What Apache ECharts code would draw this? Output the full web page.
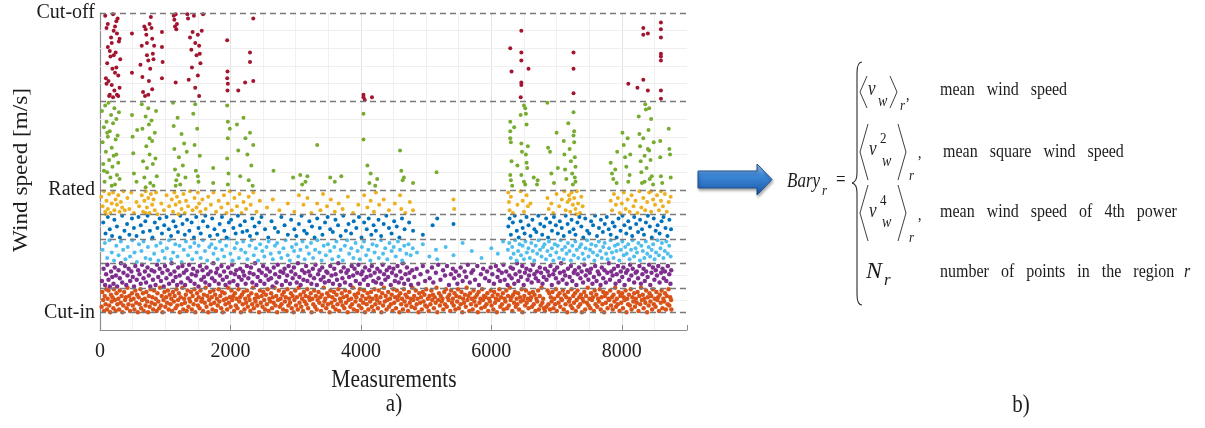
<!DOCTYPE html>
<html>
<head>
<meta charset="utf-8">
<script src="https://cdn.jsdelivr.net/npm/echarts@6/dist/echarts.min.js"></script>
<style>
html,body{margin:0;padding:0;background:#fff;}
#chart{width:1205px;height:428px;}
</style>
</head>
<body>
<div id="chart"></div>
<script>
// ---------- axis / region definitions ----------
const xTickValues = [0, 2000, 4000, 6000, 8000];
const yTickValues = [3, 12, 25];
const yTickLabels = ['Cut-in', 'Rated', 'Cut-off'];
const regionBounds = [3, 4.8, 6.6, 8.4, 10.2, 12, 18.5, 25];
const minorGridY = [3.9, 5.7, 7.5, 9.3, 11.1, 13.3, 14.6, 15.9, 17.2, 19.8, 21.1, 22.4, 23.7];

// ---------- data: flat lists of [measurement, wind speed m/s] ----------
const redPts = [80,24.8, 100,23.9, 120,22.5, 110,21.3, 90,20.2, 150,19.0, 200,24.9, 230,24.0, 260,23.5, 180,22.8, 210,21.9, 250,21.0, 280,20.4, 300,19.5, 140,18.9, 170,23.2, 240,22.1, 190,20.9, 130,20.0, 220,19.3, 270,24.6, 290,22.9, 310,21.6, 160,21.8, 100,19.8, 260,19.0, 200,18.8, 230,20.6, 120,24.2, 300,23.1, 150,22.2, 280,18.9, 180,19.7, 250,24.4, 210,23.7,
490,23.5, 490,20.6,
620,21.2, 640,22.6, 650,20.3, 660,19.2, 700,23.8, 710,23.4, 720,22.8, 740,21.5, 750,20.0, 760,24.2, 780,24.7, 790,23.9, 800,23.1, 810,22.0, 820,21.6, 800,19.4, 830,22.6, 690,18.9, 740,19.0, 770,20.9, 680,24.0, 720,21.9,
950,23.6, 950,22.5, 960,21.4, 950,20.2,
1130,24.8, 1140,24.5, 1150,24.0, 1170,23.8, 1160,24.9, 1160,19.9, 1180,24.2,
1340,24.9, 1350,24.6, 1380,23.2, 1400,22.3, 1420,23.6, 1440,24.8, 1460,22.8, 1480,21.9, 1500,23.4, 1520,22.6, 1530,22.0, 1540,21.3, 1560,23.7, 1500,20.4, 1460,19.5, 1520,18.9, 1360,20.1, 1580,24.9, 1410,21.0,
1950,23.0, 1955,20.7, 1950,20.2, 1960,19.8, 1955,19.3,
2120,19.3, 2225,19.9, 2300,22.1, 2300,21.4, 2350,24.6, 2350,20.0,
4040,19.0, 4040,18.8, 4060,18.6, 4170,18.8,
6290,22.4, 6310,20.7, 6460,23.7, 6460,22.1, 6460,21.5, 6460,19.9, 6460,19.7, 6450,18.8, 6570,20.9,
7260,22.1, 7260,20.9, 7260,19.1,
8100,19.8, 8240,19.5, 8330,20.1, 8400,19.3, 8330,23.9, 8330,23.4, 8400,23.5, 8600,24.3, 8600,23.8, 8600,23.2, 8600,22.0, 8600,21.8, 8600,21.5, 8600,19.3, 8600,18.7];

const greenPts = [30,17.8, 40,15.5, 50,13.9, 60,16.6, 70,12.6, 80,18.2, 90,14.8, 100,17.0, 110,13.3, 120,15.9, 130,18.4, 140,14.2, 150,16.3, 160,12.9, 170,17.5, 180,15.1, 190,13.7, 200,16.9, 210,14.5, 220,18.0, 230,12.4, 240,15.7, 250,17.2, 260,13.1, 270,16.0, 280,14.0, 290,17.7, 300,12.8, 110,16.2, 180,12.3, 250,14.6, 60,13.4,
490,17.5, 500,15.9, 510,14.7, 520,13.2, 560,12.6, 570,16.4,
640,18.3, 650,16.5, 660,14.1, 680,12.9, 700,17.4, 710,15.2, 720,13.6, 740,18.0, 750,16.8, 760,14.6, 770,12.5, 790,17.1, 800,15.6, 810,13.9, 820,12.3, 840,16.2, 850,14.3, 860,17.8, 870,13.0, 700,12.2, 760,15.8,
1120,18.4, 1130,16.7, 1140,15.0, 1150,13.5, 1170,12.7, 1190,17.3, 1210,14.4, 1230,12.4, 1250,16.1, 1270,13.8, 1290,15.4, 1310,12.9, 1330,14.8, 1160,12.3, 1200,13.1,
1430,17.6, 1450,15.3, 1470,13.4, 1490,16.5, 1510,12.6, 1530,14.5, 1460,18.3, 1500,13.0,
1735,13.6, 1735,12.5,
1950,18.2, 1960,17.0, 1960,15.8, 1950,14.3, 1970,13.2, 1960,12.4, 1990,16.5,
2100,16.8, 2120,14.9, 2150,13.0, 2200,17.3, 2230,15.8, 2260,14.6, 2280,12.7, 2300,16.2, 2320,13.8, 2340,12.3, 2350,15.3,
2660,13.4, 2960,12.9,
3070,13.1, 3100,12.4, 3150,12.6, 3180,13.0, 3330,15.3, 3530,12.9, 3600,12.6, 3700,13.0,
4040,17.6, 4040,15.7, 4100,13.8, 4130,12.5, 4150,13.2, 4220,12.3, 4250,12.8,
4600,14.9, 4620,13.4, 4640,12.7, 4660,12.9, 4800,12.5, 5160,13.3,
6290,17.0, 6290,16.3, 6290,15.8, 6300,15.5, 6310,14.1, 6290,13.1, 6300,12.7, 6320,12.3, 6350,16.6, 6400,13.8, 6450,17.5, 6460,15.4, 6470,14.8, 6460,13.1, 6500,12.6, 6520,18.0, 6530,17.6, 6530,14.6, 6540,14.0, 6550,13.6, 6520,12.4, 6560,15.2, 6540,16.8, 6500,18.2,
6650,12.9, 6700,12.4, 6710,12.7,
6860,18.4, 6870,15.1, 6900,14.8, 6920,13.2, 6960,12.5, 7000,16.2, 7020,13.6,
7110,15.6, 7120,14.6, 7130,13.5, 7150,12.8, 7180,16.9, 7200,15.0, 7220,14.1, 7240,13.2, 7260,17.7, 7270,16.3, 7270,15.5, 7280,14.4, 7290,13.7, 7280,12.9, 7250,12.4, 7260,16.0, 7290,12.6,
7830,14.0, 7850,13.2, 7870,12.8, 7900,13.5, 7920,12.5, 7930,14.8,
8010,16.2, 8030,15.3, 8050,14.4, 8070,13.7, 8090,15.8, 8100,12.6, 8120,13.1, 8130,14.6,
8260,17.4, 8270,16.1, 8280,15.2, 8290,14.1, 8300,13.3, 8310,12.5, 8330,15.8, 8350,14.5, 8360,18.3, 8370,17.9, 8380,13.6, 8400,15.0, 8410,16.4, 8420,18.0, 8430,12.8, 8440,14.2, 8450,17.2, 8460,13.0, 8480,12.4, 8490,15.5, 8350,12.6, 8420,14.9,
8590,15.6, 8590,14.4, 8600,13.0, 8620,12.5, 8720,16.5, 8730,15.0, 8740,14.6, 8750,12.9];

const yellowPts = [20,11.5, 40,10.8, 60,11.9, 80,10.4, 100,11.2, 120,10.6, 140,11.7, 160,10.3, 180,11.0, 200,11.8, 220,10.5, 240,11.3, 260,10.9, 280,11.6, 300,10.4, 320,11.1, 340,10.7, 360,11.9, 380,10.5, 90,10.2,
420,11.4, 450,10.6, 480,11.8, 520,10.3, 560,11.1, 600,10.8, 640,11.6, 660,10.4, 680,11.2, 700,11.9, 720,10.7, 740,11.4, 760,10.3, 780,11.7, 800,10.9, 820,11.3, 840,10.5, 860,11.8, 880,10.2, 700,10.3,
940,11.0, 980,10.5, 1020,11.6, 1060,10.8, 1100,11.3, 1120,10.4, 1140,11.8, 1160,10.9, 1180,11.5, 1200,10.2, 1220,11.1, 1250,10.6, 1280,11.7, 1300,10.3, 1320,11.2, 1350,10.8, 1380,11.9, 1420,10.5, 1450,11.4, 1480,10.7, 1500,11.8, 1520,11.0, 1540,10.4, 1570,11.3,
1620,10.6, 1660,11.5, 1700,10.9, 1740,11.8, 1780,10.4, 1820,11.2, 1860,10.7, 1900,11.6, 1940,10.3, 1960,11.0, 1990,11.9, 2020,10.5, 2060,11.4, 2100,10.8, 2140,11.7, 2170,10.3, 2200,11.1, 2240,10.6, 2280,11.5, 2310,10.9, 2350,11.8, 2400,10.4, 2450,11.2,
2560,10.7, 2650,11.3, 2750,10.5, 2880,11.0, 2980,10.4, 3050,11.6, 3120,10.9, 3180,11.4, 3240,10.3,
3330,11.0, 3380,10.5, 3420,11.7, 3480,10.8, 3540,11.3, 3600,10.4, 3660,11.0, 3720,10.6, 3800,11.5, 3880,10.3, 3960,10.9, 4050,11.6, 4100,10.7, 4150,11.2, 4200,10.4, 4230,11.8, 4280,10.9, 4350,11.3, 4430,10.5, 4520,11.0, 4600,11.6, 4620,10.6, 4680,10.3, 4750,11.1, 4800,10.5,
5420,11.3, 5430,10.6,
6260,11.8, 6270,11.1, 6280,10.5, 6300,11.5, 6330,10.3, 6400,10.9, 6450,11.9, 6480,11.2, 6500,10.4, 6540,11.6, 6560,10.8, 6600,11.0,
6860,11.4, 6880,10.6, 6920,11.0, 6950,10.3, 7000,11.7, 7040,10.8, 7080,11.3, 7120,11.9, 7140,10.5, 7170,11.1, 7190,11.6, 7210,10.4, 7230,11.8, 7250,10.9, 7270,11.4, 7290,10.6, 7310,11.9, 7330,11.0, 7360,10.3, 7380,11.5, 7400,10.8, 7200,11.3, 7300,10.2,
7830,11.2, 7850,10.5, 7880,11.7, 7910,10.9, 7940,11.4, 7970,10.3, 8000,11.0, 8030,11.8, 8060,10.6, 8090,11.3, 8120,10.4, 8150,11.6, 8180,10.8, 8210,11.2, 8240,10.3, 8270,11.9, 8300,10.7, 8330,11.4, 8360,10.5, 8390,11.1, 8420,11.8, 8450,10.4, 8480,11.3, 8510,10.9, 8540,11.6, 8570,10.5, 8600,11.2, 8630,10.8, 8660,11.7, 8690,10.4, 8720,11.1, 8750,11.5, 8600,11.9, 8450,11.9];

const darkBluePts = [50,9.6, 85,8.8, 120,10.0, 150,9.1, 185,8.6, 220,9.8, 260,9.3, 305,8.5, 340,10.1, 375,9.0, 415,9.5, 450,8.7, 490,9.9, 520,9.2, 560,8.6, 590,10.0, 625,9.4, 660,8.9, 695,9.7, 730,10.1, 765,9.0, 805,8.5, 840,9.6, 880,9.2, 915,9.9, 950,8.8, 985,9.4, 1020,10.0, 1055,9.1, 1090,8.6, 1125,9.7, 1160,9.3, 1195,8.9, 1230,10.1, 1265,9.5, 1300,8.7, 1335,9.8, 1370,9.0, 1405,9.6, 1440,8.5, 1475,10.0, 1510,9.2, 1545,8.8, 1580,9.7, 1615,10.1, 1650,9.3, 1685,8.6, 1720,9.9, 1755,9.1, 1800,8.7, 1835,9.5, 1870,10.0, 1905,9.0, 1940,8.5, 1975,9.6,
2010,9.8, 2045,9.2, 2080,8.8, 2115,10.1, 2150,9.4, 2185,8.9, 2220,9.7, 2255,9.0, 2300,8.6, 2335,9.9, 2370,9.3, 2405,8.8, 2440,9.6, 2475,10.0, 2530,9.1, 2580,8.5, 2630,9.7, 2680,9.2, 2730,8.9, 2780,10.0, 2830,9.4, 2880,8.7, 2930,9.8, 2980,9.1,
3010,8.6, 3050,9.5, 3090,10.1, 3130,9.0, 3170,8.8, 3210,9.7, 3250,9.3, 3290,8.5, 3330,9.9, 3370,9.2, 3410,8.7, 3450,9.6, 3490,10.0, 3530,9.1, 3570,8.9, 3610,9.8, 3650,9.4, 3690,8.6, 3730,10.1, 3770,9.0, 3810,9.5, 3850,8.8, 3890,9.7, 3930,9.2, 3970,10.0,
4010,8.5, 4050,9.6, 4090,9.1, 4120,9.9, 4160,8.7, 4195,9.4, 4230,9.0, 4270,9.8, 4310,8.6, 4350,9.5, 4390,10.1, 4430,9.2, 4470,8.8, 4510,9.7, 4550,9.3, 4590,8.5, 4630,9.9, 4670,9.1,
4740,9.6, 4800,9.0, 4950,8.7, 5100,9.4, 5170,9.9, 5420,9.5,
6260,9.3, 6280,9.9, 6300,8.7, 6330,9.6, 6360,10.1, 6390,9.0, 6420,8.5, 6450,9.7, 6480,9.2, 6510,8.8, 6540,10.0, 6570,9.4, 6600,8.6, 6630,9.8, 6660,9.1, 6690,8.9, 6720,10.1, 6750,9.5, 6780,8.7, 6810,9.3, 6840,9.9, 6870,8.5, 6900,9.6, 6930,9.0, 6960,10.0, 6990,9.4,
7020,8.8, 7050,9.7, 7080,9.2, 7110,8.6, 7140,10.1, 7170,9.5, 7200,8.9, 7230,9.8, 7260,9.1, 7290,8.7, 7320,9.6, 7350,10.0, 7380,9.3, 7410,8.5, 7440,9.9, 7470,9.0, 7500,8.8, 7530,9.7, 7560,9.4, 7590,10.1, 7620,8.6, 7650,9.2, 7680,9.8, 7710,8.9, 7740,9.5, 7770,10.0, 7800,9.1, 7830,8.7, 7860,9.6, 7890,9.3, 7920,8.5, 7950,9.9, 7980,9.0,
8010,10.1, 8040,9.4, 8070,8.8, 8100,9.7, 8130,9.2, 8160,8.6, 8190,10.0, 8220,9.5, 8250,8.9, 8280,9.8, 8310,9.1, 8340,8.7, 8370,9.6, 8400,10.1, 8430,9.3, 8460,8.5, 8490,9.9, 8520,9.0, 8550,9.4, 8580,8.8, 8610,9.7, 8640,10.0, 8670,9.2, 8700,8.6, 8730,9.8, 8755,9.1];

const lightBluePts = [40,7.6, 75,8.1, 110,7.0, 145,8.3, 180,7.4, 215,6.8, 250,7.9, 285,7.2, 320,8.2, 355,7.6, 390,6.9, 425,7.8, 460,7.1, 495,8.3, 530,7.4, 565,6.7, 598,8.0, 635,7.5, 668,8.2, 699,7.0, 735,7.8, 770,6.9, 795,8.4, 830,7.3, 862,7.9, 896,6.8, 928,8.1, 960,7.5, 993,7.0,
1025,7.7, 1058,8.3, 1090,6.9, 1122,7.4, 1155,8.0, 1188,7.1, 1220,7.9, 1252,6.7, 1285,7.6, 1318,8.2, 1350,7.2, 1383,7.8, 1415,6.9, 1448,8.1, 1480,7.4, 1513,7.9, 1545,7.0, 1578,8.3, 1610,7.5, 1643,6.8, 1675,7.8, 1708,8.0, 1740,7.3, 1773,7.7, 1805,6.9, 1838,8.2, 1870,7.6, 1903,7.1, 1935,7.9, 1968,8.4,
2000,7.3, 2033,6.8, 2065,7.7, 2098,8.1, 2130,7.0, 2163,7.6, 2195,8.2, 2228,7.4, 2260,6.9, 2293,7.9, 2325,8.3, 2358,7.2, 2390,7.7, 2423,6.8, 2455,8.0, 2488,7.5, 2520,7.1, 2553,7.8, 2585,8.2, 2618,7.3, 2650,6.9, 2683,7.9, 2715,8.1, 2748,7.4, 2780,7.0, 2813,7.7, 2845,8.3, 2878,7.2, 2910,6.8, 2943,7.8, 2975,7.5,
3008,8.0, 3040,7.1, 3073,7.6, 3105,8.2, 3138,6.9, 3170,7.8, 3203,7.3, 3235,8.1, 3268,7.0, 3298,7.6, 3333,8.3, 3365,7.4, 3398,6.8, 3430,7.9, 3463,7.2, 3495,8.0, 3528,7.5, 3560,6.9, 3593,7.8, 3625,8.2, 3658,7.1, 3690,7.6, 3723,6.8, 3755,7.9, 3788,8.3, 3820,7.3, 3853,7.7, 3885,7.0, 3918,8.1, 3950,7.5, 3983,6.9,
4015,7.8, 4048,8.2, 4080,7.2, 4113,7.6, 4145,6.8, 4178,8.0, 4210,7.4, 4243,7.9, 4275,7.0, 4308,8.3, 4340,7.3, 4373,7.7, 4405,6.9, 4438,8.1, 4470,7.5, 4503,7.8, 4535,7.1, 4568,8.2, 4600,7.6, 4633,6.8, 4665,7.9, 4698,7.3, 4730,8.0, 4763,7.2, 4795,7.7,
4860,7.4, 4950,8.0, 5050,7.1, 5150,7.6, 5170,6.9, 5300,7.8, 5420,7.2, 5560,8.1, 5700,7.5, 5850,7.0, 6000,7.7, 6100,7.3, 6180,8.2,
6255,7.6, 6275,8.1, 6298,7.0, 6320,7.8, 6342,7.3, 6365,8.3, 6388,6.8, 6410,7.5, 6433,8.0, 6455,7.2, 6478,7.9, 6500,6.9, 6523,8.2, 6545,7.4, 6568,7.7, 6590,7.0, 6613,8.1, 6635,7.5, 6658,6.8, 6680,7.9, 6703,7.3, 6725,8.3, 6748,7.6, 6770,7.1, 6793,7.8, 6815,8.0, 6838,6.9, 6860,7.5, 6883,8.2, 6905,7.2, 6928,7.7, 6950,6.8, 6973,8.0, 6995,7.4,
7018,7.9, 7040,7.0, 7063,8.3, 7085,7.6, 7108,6.9, 7130,7.8, 7153,7.3, 7175,8.1, 7198,7.5, 7220,6.8, 7243,7.9, 7265,7.2, 7288,8.2, 7310,7.6, 7333,7.0, 7355,7.8, 7378,8.0, 7400,7.3, 7423,6.9, 7445,7.7, 7468,8.3, 7490,7.1, 7513,7.6, 7535,8.0, 7558,7.4, 7580,6.8, 7603,7.9, 7625,7.2, 7648,8.2, 7670,7.5, 7693,7.0, 7715,7.8, 7738,8.1, 7760,7.3, 7783,6.9, 7805,7.7, 7828,8.3, 7850,7.4, 7873,7.0, 7895,7.9, 7918,7.5, 7940,8.0, 7963,6.8, 7985,7.6,
8008,8.2, 8030,7.2, 8053,7.8, 8075,7.3, 8098,8.0, 8120,6.9, 8143,7.6, 8165,8.3, 8188,7.1, 8210,7.7, 8233,7.4, 8255,8.1, 8278,6.8, 8300,7.9, 8323,7.5, 8345,7.0, 8368,8.2, 8390,7.3, 8413,7.8, 8435,7.1, 8458,7.6, 8480,8.0, 8503,6.9, 8525,7.4, 8548,8.3, 8570,7.2, 8593,7.7, 8615,8.1, 8638,7.0, 8660,7.5, 8683,8.2, 8705,7.3, 8728,7.9, 8750,7.1];

const purplePts = [30,5.3, 55,6.2, 78,5.0, 94,5.8, 112,6.5, 130,5.4, 151,4.9, 169,6.0, 188,5.6, 207,5.1, 226,6.3, 244,5.7, 263,4.9, 285,6.1, 304,5.5, 322,6.6, 341,5.2, 360,5.9, 383,6.4, 402,5.0, 421,5.7, 440,6.2, 462,5.3, 481,6.0, 503,5.6, 522,4.9, 541,6.4, 563,5.4, 585,6.1, 606,5.8, 624,5.1, 645,6.5, 667,5.5, 688,6.0, 707,5.2, 729,6.3, 748,5.7, 770,4.9, 791,6.1, 812,5.4, 833,6.0, 852,5.0, 874,6.5, 893,5.6, 915,6.2, 934,5.3, 956,5.9, 977,4.9, 996,6.4,
1018,5.5, 1037,6.1, 1059,5.1, 1080,5.8, 1098,6.6, 1120,5.3, 1141,6.0, 1160,5.6, 1182,5.0, 1199,6.3, 1222,5.7, 1244,5.2, 1263,6.4, 1285,5.9, 1304,5.0, 1325,6.1, 1347,5.5, 1366,6.5, 1388,5.3, 1407,5.8, 1429,6.2, 1450,5.1, 1469,5.7, 1491,6.0, 1510,4.9, 1532,6.4, 1553,5.4, 1572,6.1, 1594,5.6, 1615,5.2, 1634,6.3, 1656,5.8, 1677,5.0, 1696,6.0, 1718,5.5, 1737,6.6, 1759,5.3, 1780,5.9, 1799,6.2, 1821,5.1, 1840,5.7, 1862,6.4, 1883,5.4, 1902,6.0, 1924,5.0, 1943,5.6, 1965,6.3, 1986,5.2,
2005,5.9, 2027,6.5, 2046,5.3, 2068,5.8, 2089,6.1, 2108,5.0, 2130,5.6, 2149,6.2, 2171,5.4, 2192,6.0, 2211,5.7, 2233,5.1, 2252,6.4, 2274,5.5, 2295,5.9, 2314,6.3, 2336,5.2, 2355,5.8, 2377,6.6, 2398,5.0, 2417,5.6, 2439,6.1, 2458,5.3, 2480,5.9, 2501,6.4, 2520,5.1, 2542,5.7, 2561,6.2, 2583,5.4, 2604,6.0, 2623,5.5, 2645,4.9, 2664,6.3, 2686,5.8, 2707,5.2, 2726,6.5, 2748,5.6, 2767,6.0, 2789,5.0, 2810,5.9, 2829,6.2, 2851,5.3, 2870,5.7, 2892,6.4, 2913,5.1, 2932,6.0, 2954,5.5, 2973,6.3, 2995,5.8,
3016,5.2, 3035,6.6, 3057,5.6, 3076,5.0, 3098,6.1, 3119,5.4, 3138,5.9, 3160,6.4, 3179,5.3, 3201,6.0, 3222,5.7, 3241,5.1, 3263,6.2, 3282,5.5, 3304,6.5, 3325,5.0, 3344,5.8, 3366,6.1, 3385,5.4, 3407,6.3, 3428,5.6, 3447,5.2, 3469,6.0, 3488,5.9, 3510,5.3, 3531,6.4, 3550,5.7, 3572,5.1, 3591,6.2, 3613,5.8, 3634,5.4, 3653,6.6, 3675,5.0, 3694,6.0, 3716,5.5, 3737,6.3, 3756,5.2, 3778,5.9, 3801,6.1, 3819,5.6, 3840,5.0, 3859,6.4, 3881,5.7, 3902,6.2, 3922,5.3, 3943,5.9, 3962,6.5, 3984,5.1,
4005,5.8, 4025,6.0, 4046,5.4, 4065,6.3, 4087,5.6, 4108,5.0, 4128,6.1, 4149,5.7, 4168,6.4, 4190,5.3, 4211,5.9, 4231,5.2, 4252,6.2, 4271,5.5, 4293,6.0, 4314,5.1, 4334,6.5, 4355,5.8, 4374,5.4, 4396,6.1, 4417,5.6, 4437,6.3, 4458,5.0, 4477,5.9, 4500,6.2, 4520,5.3, 4540,5.7, 4561,6.4, 4580,5.2, 4603,6.0, 4623,5.5, 4643,6.6, 4664,5.1, 4683,5.8, 4706,6.3, 4726,5.4, 4746,5.9, 4767,5.0, 4786,6.1,
4820,5.6, 4855,6.2, 4880,5.1, 4915,5.8, 4950,6.4, 4985,5.3, 5020,6.0, 5055,5.5, 5090,6.3, 5110,5.2, 5150,5.9, 5185,6.5, 5220,5.4, 5260,6.1, 5290,5.7, 5320,6.4, 5350,5.0, 5380,5.8, 5410,6.2, 5430,5.5, 5455,6.0, 5480,5.1, 5505,5.7, 5530,6.3, 5560,5.3, 5590,6.0, 5615,5.6, 5640,6.5, 5670,5.2, 5695,5.9, 5720,6.1, 5750,5.4, 5785,6.4, 5810,5.0, 5840,5.8, 5875,6.2, 5905,5.5, 5935,6.0, 5965,5.3, 5990,6.3,
6015,5.8, 6040,5.1, 6070,6.4, 6095,5.6, 6110,6.1, 6135,5.3, 6160,5.9, 6185,6.5, 6205,5.4, 6228,6.0, 6250,5.0, 6275,5.7, 6296,6.3, 6312,5.5, 6331,6.2, 6352,5.1, 6371,5.8, 6393,6.6, 6414,5.3, 6433,6.0, 6455,5.6, 6474,6.4, 6496,5.0, 6515,5.9, 6537,6.2, 6556,5.4, 6578,5.7, 6597,6.1, 6618,5.2, 6640,6.5, 6659,5.8, 6681,5.5, 6700,6.0, 6721,5.3, 6743,6.3, 6762,5.9, 6784,5.1, 6803,5.6, 6824,6.2, 6846,5.4, 6865,6.0, 6887,5.7, 6906,6.4, 6927,5.0, 6949,5.8, 6968,6.1, 6990,5.5,
7009,6.3, 7030,5.2, 7052,5.9, 7071,6.6, 7093,5.4, 7112,6.0, 7133,5.7, 7155,5.1, 7174,6.2, 7201,5.6, 7220,6.4, 7241,5.3, 7263,5.9, 7282,6.1, 7304,5.0, 7323,5.8, 7344,6.3, 7366,5.5, 7385,6.0, 7407,5.2, 7426,6.5, 7447,5.7, 7469,6.1, 7488,5.4, 7510,5.9, 7529,6.2, 7550,5.1, 7572,5.6, 7591,6.4, 7613,5.3, 7632,6.0, 7653,5.8, 7675,5.0, 7694,6.3, 7716,5.5, 7735,6.1, 7756,5.2, 7778,5.9, 7801,6.6, 7819,5.4, 7838,6.0, 7859,5.7, 7881,6.2, 7904,5.1, 7922,5.8, 7941,6.4, 7962,5.3, 7984,6.0,
8007,5.6, 8025,6.3, 8044,5.0, 8065,5.9, 8087,6.1, 8110,5.4, 8128,6.5, 8147,5.7, 8168,6.2, 8190,5.2, 8213,5.9, 8231,6.0, 8250,5.5, 8271,6.4, 8293,5.1, 8316,5.8, 8334,6.2, 8353,5.3, 8374,6.0, 8396,5.6, 8419,6.5, 8437,5.0, 8456,5.9, 8477,6.3, 8500,5.4, 8522,6.1, 8540,5.7, 8559,6.4, 8580,5.2, 8603,5.9, 8625,6.2, 8643,5.5, 8662,6.0, 8683,5.3, 8706,6.4, 8728,5.8, 8746,5.1, 8758,6.1];

const orangePts = [25,3.4, 35,4.5, 48,3.9, 60,3.1, 72,4.2, 85,3.6, 95,4.7, 108,3.2, 117,4.0, 130,4.6, 141,3.5, 156,3.0, 168,4.3, 179,3.8, 192,4.1, 205,3.3, 214,4.7, 228,3.9, 240,3.1, 253,4.4, 266,3.6, 281,4.0, 294,3.2, 302,4.6, 318,3.7, 331,4.2, 345,3.0, 357,3.5, 370,4.5, 384,3.9, 396,4.1, 409,3.3, 421,4.8, 436,3.6, 448,4.2, 460,3.1, 473,3.9, 489,4.4, 503,3.5, 515,4.0, 527,3.2, 541,4.6, 556,3.7, 568,4.3, 580,3.0, 593,4.1, 607,3.6, 619,4.7, 632,3.3, 645,3.9, 659,4.4, 671,3.1, 686,4.0, 698,3.5, 711,4.5, 724,3.8, 737,3.0, 749,4.2, 762,3.4, 776,4.7, 790,3.7, 803,4.1, 815,3.2, 829,4.6, 842,3.6, 855,4.0, 869,3.1, 881,4.4, 894,3.8, 907,3.3, 920,4.8, 934,3.5, 947,4.2, 960,3.0, 973,3.9, 988,4.5,
1001,3.4, 1014,4.1, 1027,3.7, 1041,4.6, 1054,3.2, 1068,4.3, 1080,3.6, 1093,4.0, 1106,3.1, 1119,4.5, 1132,3.8, 1145,4.2, 1158,3.3, 1172,4.7, 1185,3.5, 1197,3.9, 1210,4.4, 1223,3.0, 1236,4.1, 1250,3.6, 1263,4.8, 1277,3.2, 1290,4.0, 1303,3.7, 1316,4.3, 1329,3.1, 1343,4.6, 1356,3.4, 1369,4.0, 1382,3.8, 1395,4.5, 1408,3.2, 1421,4.2, 1435,3.6, 1448,4.7, 1461,3.0, 1475,3.9, 1488,4.4, 1501,3.5, 1514,4.1, 1527,3.3, 1541,4.6, 1554,3.8, 1567,4.0, 1580,3.1, 1593,4.3, 1606,3.7, 1619,4.8, 1633,3.4, 1646,4.2, 1659,3.0, 1672,3.9, 1686,4.5, 1699,3.6, 1712,4.1, 1725,3.2, 1739,4.6, 1752,3.7, 1765,4.3, 1778,3.1, 1792,4.0, 1805,3.5, 1818,4.7, 1831,3.8, 1845,4.2, 1858,3.3, 1871,4.5, 1884,3.0, 1897,3.9, 1910,4.4, 1924,3.6, 1937,4.0, 1950,3.2, 1963,4.8, 1977,3.7, 1990,4.1,
2003,3.4, 2016,4.6, 2029,3.9, 2043,4.2, 2056,3.1, 2069,4.4, 2082,3.5, 2095,4.0, 2108,3.3, 2122,4.7, 2135,3.8, 2148,4.1, 2161,3.0, 2175,4.3, 2188,3.6, 2201,4.5, 2214,3.2, 2227,4.0, 2241,3.7, 2254,4.6, 2267,3.4, 2280,4.2, 2293,3.9, 2306,3.1, 2320,4.4, 2333,3.6, 2346,4.8, 2359,3.3, 2373,4.0, 2386,3.8, 2399,4.3, 2412,3.5, 2425,4.1, 2439,3.0, 2452,4.6, 2465,3.7, 2478,4.2, 2492,3.4, 2505,4.5, 2518,3.9, 2531,3.2, 2544,4.3, 2558,3.6, 2571,4.7, 2584,3.1, 2597,4.0, 2610,3.8, 2623,4.4, 2637,3.3, 2650,4.1, 2663,3.7, 2676,4.8, 2690,3.5, 2703,4.2, 2716,3.0, 2729,3.9, 2742,4.6, 2756,3.4, 2769,4.0, 2782,3.6, 2795,4.3, 2808,3.2, 2821,4.5, 2835,3.8, 2848,4.1, 2861,3.1, 2874,4.7, 2888,3.5, 2901,4.0, 2914,3.7, 2927,4.4, 2940,3.3, 2954,4.2, 2967,3.0, 2980,3.9, 2993,4.6,
3006,3.5, 3019,4.1, 3033,3.2, 3046,4.8, 3059,3.7, 3072,4.3, 3086,3.4, 3099,4.0, 3112,3.1, 3125,4.5, 3138,3.8, 3152,4.2, 3165,3.6, 3178,4.7, 3191,3.3, 3204,4.1, 3217,3.9, 3231,4.4, 3244,3.0, 3257,4.0, 3270,3.6, 3284,4.6, 3297,3.4, 3310,4.2, 3323,3.2, 3336,3.9, 3350,4.5, 3363,3.7, 3376,4.1, 3389,3.1, 3402,4.3, 3415,3.5, 3429,4.8, 3442,3.8, 3455,4.0, 3468,3.3, 3482,4.4, 3495,3.6, 3508,4.2, 3521,3.0, 3534,4.6, 3548,3.7, 3561,4.1, 3574,3.4, 3587,4.5, 3600,3.9, 3613,3.2, 3627,4.3, 3640,3.6, 3653,4.7, 3666,3.1, 3680,4.0, 3693,3.8, 3706,4.4, 3719,3.5, 3732,4.1, 3746,3.3, 3759,4.6, 3772,3.7, 3785,4.2, 3798,3.0, 3811,3.9, 3825,4.5, 3838,3.4, 3851,4.0, 3864,3.6, 3878,4.8, 3891,3.2, 3904,4.3, 3917,3.8, 3930,4.1, 3944,3.1, 3957,4.4, 3970,3.5, 3983,4.7, 3996,3.9,
4009,3.3, 4023,4.2, 4036,3.7, 4049,4.6, 4062,3.0, 4076,4.0, 4089,3.6, 4102,4.4, 4115,3.2, 4128,4.1, 4142,3.8, 4155,4.5, 4168,3.4, 4181,4.0, 4195,3.1, 4208,4.7, 4221,3.6, 4234,4.2, 4247,3.9, 4261,3.3, 4274,4.6, 4287,3.7, 4300,4.1, 4314,3.0, 4327,4.4, 4340,3.5, 4353,4.8, 4366,3.8, 4380,4.2, 4393,3.2, 4406,3.9, 4419,4.5, 4432,3.4, 4446,4.0, 4459,3.6, 4472,4.3, 4485,3.1, 4498,4.7, 4512,3.7, 4525,4.1, 4538,3.3, 4551,4.6, 4565,3.9, 4578,4.2, 4591,3.0, 4604,4.4, 4617,3.6, 4631,4.0, 4644,3.2, 4657,4.7, 4670,3.8, 4684,4.3, 4697,3.5, 4710,4.1, 4723,3.1, 4736,4.5, 4750,3.7, 4763,4.0, 4776,3.4, 4789,4.8, 4802,3.9, 4816,4.2, 4829,3.3, 4842,4.6, 4855,3.6, 4868,4.0, 4882,3.0, 4895,4.4, 4908,3.7, 4921,4.1, 4934,3.2, 4948,4.5, 4961,3.8, 4974,4.3, 4987,3.5,
5000,4.7, 5013,3.4, 5027,4.0, 5040,3.1, 5053,4.2, 5066,3.6, 5080,4.6, 5093,3.9, 5106,4.3, 5119,3.3, 5132,4.1, 5146,3.7, 5159,4.8, 5172,3.0, 5185,3.9, 5198,4.4, 5211,3.5, 5225,4.2, 5238,3.8, 5251,4.0, 5264,3.2, 5278,4.5, 5291,3.6, 5304,4.7, 5317,3.4, 5330,4.1, 5344,3.9, 5357,4.3, 5370,3.1, 5383,4.6, 5397,3.7, 5410,4.0, 5423,3.5, 5436,4.4, 5449,3.2, 5463,4.2, 5476,3.8, 5489,4.7, 5502,3.3, 5515,4.1, 5529,3.6, 5542,4.5, 5555,3.0, 5568,4.0, 5582,3.7, 5595,4.3, 5608,3.4, 5621,4.8, 5634,3.9, 5648,4.2, 5661,3.1, 5674,4.4, 5687,3.6, 5700,4.0, 5714,3.2, 5727,4.6, 5740,3.8, 5753,4.1, 5767,3.5, 5780,4.3, 5793,3.0, 5806,4.5, 5819,3.7, 5833,4.0, 5846,3.3, 5859,4.7, 5872,3.9, 5886,4.2, 5899,3.4, 5912,4.1, 5925,3.6, 5938,4.4, 5952,3.1, 5965,4.0, 5978,3.8, 5991,4.6,
6004,3.5, 6018,4.2, 6031,3.2, 6044,4.5, 6057,3.7, 6070,4.0, 6084,3.0, 6097,4.3, 6110,3.9, 6123,4.7, 6137,3.4, 6150,4.1, 6163,3.6, 6176,4.4, 6190,3.2, 6203,4.0, 6216,3.8, 6229,4.6, 6242,3.3, 6256,4.2, 6269,3.5, 6282,4.8, 6295,3.9, 6308,4.1, 6322,3.1, 6335,4.3, 6348,3.7, 6361,4.5, 6374,3.4, 6388,4.0, 6398,3.6, 6412,4.4, 6425,3.2, 6439,4.1, 6452,3.8, 6465,4.7, 6478,3.0, 6492,3.9, 6505,4.2, 6518,3.5, 6531,4.6, 6544,3.7, 6558,4.0, 6571,3.3, 6584,4.4, 6597,3.9, 6610,4.1, 6624,3.4, 6637,4.5, 6650,3.6, 6663,4.3, 6676,3.1, 6690,4.0, 6703,3.8, 6716,4.6, 6729,3.2, 6742,4.2, 6756,3.5, 6769,4.8, 6782,3.7, 6795,4.0, 6808,3.3, 6822,3.1, 6845,3.4, 6862,4.6, 6875,3.6, 6888,4.4, 6898,3.2, 6912,4.1, 6925,3.8, 6938,4.5, 6952,3.3, 6965,4.0, 6978,3.6, 6991,4.7,
7004,3.1, 7018,4.2, 7031,3.7, 7044,4.4, 7057,3.4, 7070,4.0, 7084,3.9, 7097,4.6, 7110,3.2, 7123,4.3, 7137,3.6, 7150,4.1, 7163,3.0, 7176,4.5, 7190,3.8, 7203,4.0, 7216,3.5, 7229,4.7, 7242,3.3, 7256,4.2, 7269,3.7, 7282,4.4, 7295,3.1, 7308,3.9, 7322,4.6, 7335,3.4, 7348,4.1, 7361,3.6, 7374,4.3, 7388,3.0, 7399,4.0, 7412,3.8, 7425,4.5, 7439,3.2, 7452,4.2, 7465,3.7, 7478,4.8, 7492,3.5, 7505,4.0, 7518,3.3, 7531,4.4, 7544,3.9, 7558,4.1, 7571,3.1, 7584,4.6, 7597,3.6, 7610,4.3, 7624,3.4, 7637,4.0, 7650,3.8, 7663,4.7, 7676,3.2, 7690,4.1, 7703,3.6, 7716,4.5, 7729,3.0, 7742,4.2, 7756,3.7, 7769,4.4, 7782,3.3, 7795,4.0, 7808,3.9, 7822,4.6, 7835,3.5, 7848,4.1, 7861,3.2, 7874,4.3, 7888,3.8, 7899,4.8, 7912,3.4, 7925,4.0, 7939,3.6, 7952,4.5, 7965,3.1, 7978,4.2, 7992,3.7,
8005,4.4, 8018,3.3, 8031,4.1, 8044,3.9, 8058,4.6, 8071,3.0, 8084,4.0, 8097,3.6, 8110,4.3, 8124,3.5, 8137,4.7, 8150,3.2, 8163,4.1, 8176,3.8, 8190,4.4, 8203,3.4, 8216,4.0, 8229,3.7, 8242,4.5, 8256,3.1, 8269,4.2, 8282,3.6, 8295,4.8, 8308,3.9, 8322,4.3, 8335,3.3, 8348,4.0, 8361,3.7, 8374,4.6, 8388,3.0, 8399,4.1, 8412,3.5, 8425,4.4, 8439,3.8, 8452,4.2, 8465,3.2, 8478,4.7, 8492,3.6, 8505,4.0, 8518,3.4, 8531,4.5, 8544,3.9, 8558,4.1, 8571,3.1, 8584,4.3, 8597,3.7, 8610,4.6, 8624,3.3, 8637,4.0, 8650,3.8, 8663,4.4, 8676,3.2, 8690,4.2, 8703,3.6, 8716,4.7, 8729,3.5, 8742,4.1, 8756,3.9, 8760,3.2];

// ---------- build ----------
function toPairs(a) { const out = []; for (let i = 0; i + 1 < a.length; i += 2) out.push([a[i], a[i + 1]]); return out; }

const SERIF = 'Liberation Serif';
const chart = echarts.init(document.getElementById('chart'), null, { renderer: 'canvas' });

function band(name, pts, color, size, extra) {
  return Object.assign({
    name: name, type: 'scatter', data: toPairs(pts), symbol: 'circle', symbolSize: size, z: 3,
    itemStyle: { color: color, opacity: 1, borderWidth: 0 },
    emphasis: { disabled: true }, silent: true, animation: false, large: false
  }, extra || {});
}

const labelMap = {};
yTickValues.forEach((v, i) => { labelMap[v] = yTickLabels[i]; });

function txt(x, y, text, size, opts) {
  opts = opts || {};
  return {
    type: 'text', x: x, y: y, silent: true, z: 100,
    scaleX: opts.scaleX || 1, scaleY: opts.scaleY || 1, rotation: opts.rotation || 0,
    style: {
      text: text, fontFamily: opts.font || SERIF, fontSize: size, fontStyle: opts.italic ? 'italic' : 'normal',
      fill: '#1c1c1c', textAlign: opts.align || 'left', textVerticalAlign: 'middle'
    }
  };
}
function line(points, w) {
  return { type: 'polyline', silent: true, z: 100, shape: { points: points }, style: { stroke: '#2a2a2a', lineWidth: w || 1, fill: null } };
}
function curve(x1, y1, cx, cy, x2, y2) {
  return { type: 'bezierCurve', silent: true, z: 100, shape: { x1: x1, y1: y1, cpx1: cx, cpy1: cy, x2: x2, y2: y2 }, style: { stroke: '#2a2a2a', lineWidth: 1.1, fill: null } };
}

const S = 1.2; // vertical stretch of the original figure's text
const graphics = [
  txt(22, 170, 'Wind speed [m/s]', 20, { align: 'center', rotation: Math.PI / 2, scaleX: 1.16 }),
  txt(394, 380, 'Measurements', 21.5, { align: 'center', scaleY: S }),
  txt(394, 404, 'a)', 21, { align: 'center', scaleY: S }),
  txt(1021, 405, 'b)', 21, { align: 'center', scaleY: S }),
  {
    type: 'polygon', silent: true, z: 100,
    shape: { points: [[698, 171], [757, 171], [757, 164], [772, 179.5], [757, 195], [757, 188], [698, 188]] },
    style: {
      fill: new echarts.graphic.LinearGradient(0, 0, 0, 1, [
        { offset: 0, color: '#a9d0f5' }, { offset: 0.35, color: '#3d8ad9' }, { offset: 1, color: '#1b59a8' }
      ]),
      stroke: '#1f4f8f', lineWidth: 1, shadowBlur: 3, shadowColor: 'rgba(0,0,0,0.35)', shadowOffsetY: 2, shadowOffsetX: 1
    }
  },
  txt(787, 182, 'Bary', 17, { italic: true, scaleY: S }),
  txt(822, 191, 'r', 13, { italic: true, scaleY: S }),
  txt(836, 181, '=', 17, { scaleY: S }),
  curve(862, 62, 857, 62, 857, 73),
  line([[857, 73], [857, 173]], 1.1),
  curve(857, 173, 857, 182, 852, 183),
  curve(852, 183, 857, 184, 857, 193),
  line([[857, 193], [857, 294]], 1.1),
  curve(857, 294, 857, 305, 862, 305),
  line([[867, 76], [860, 92], [867, 108]], 0.9),
  line([[890, 76], [897, 92], [890, 108]], 0.9),
  txt(868, 90, 'v', 17, { italic: true, scaleY: S }),
  txt(878, 102, 'w', 14, { italic: true, scaleY: S }),
  txt(900, 106, 'r', 13, { italic: true, scaleY: S }),
  txt(906, 96, ',', 14, { scaleY: S }),
  txt(940, 90, 'mean   wind   speed', 16, { scaleY: S }),
  line([[868, 124], [860, 152], [868, 180]], 0.9),
  line([[898, 124], [906, 152], [898, 180]], 0.9),
  txt(869, 150, 'v', 17, { italic: true, scaleY: S }),
  txt(880, 139, '2', 13, { scaleY: S }),
  txt(882, 162, 'w', 14, { italic: true, scaleY: S }),
  txt(909, 176, 'r', 13, { italic: true, scaleY: S }),
  txt(918, 154, ',', 14, { scaleY: S }),
  txt(943, 152, 'mean   square   wind   speed', 16, { scaleY: S }),
  line([[868, 185], [860, 213], [868, 241]], 0.9),
  line([[898, 185], [906, 213], [898, 241]], 0.9),
  txt(869, 212, 'v', 17, { italic: true, scaleY: S }),
  txt(880, 201, '4', 13, { scaleY: S }),
  txt(882, 223, 'w', 14, { italic: true, scaleY: S }),
  txt(909, 238, 'r', 13, { italic: true, scaleY: S }),
  txt(918, 216, ',', 14, { scaleY: S }),
  txt(940, 212, 'mean   wind   speed   of   4th   power', 16, { scaleY: S }),
  txt(866, 272, 'N', 24, { italic: true }),
  txt(884, 281, 'r', 17, { italic: true }),
  txt(940, 272, 'number   of   points   in   the   region   ', 16, { scaleY: S }),
  txt(1184, 272, 'r', 16, { italic: true, scaleY: S })
];

const option = {
  animation: false,
  backgroundColor: '#ffffff',
  grid: { left: 100, top: 13, width: 587, height: 317, containLabel: false },
  xAxis: {
    type: 'value', min: 0, max: 9000, interval: 2000,
    axisLine: { show: true, onZero: false, lineStyle: { color: '#8c8c8c', width: 1.2 } },
    axisTick: { show: true, inside: true, length: 5, lineStyle: { color: '#8c8c8c' } },
    axisLabel: {
      customValues: xTickValues,
      formatter: function (v) { return String(v); },
      fontFamily: SERIF, fontSize: 20, color: '#1c1c1c', margin: 12
    },
    splitLine: { show: true, showMaxLine: false, lineStyle: { color: '#e3e3e3', width: 1 } },
    minorTick: { show: false, splitNumber: 4 },
    minorSplitLine: { show: true, lineStyle: { color: '#f0f0f0', width: 1 } }
  },
  yAxis: {
    type: 'value', min: 1.7, max: 25,
    axisLine: { show: true, onZero: false, lineStyle: { color: '#8c8c8c', width: 1.2 } },
    axisTick: { show: false },
    splitLine: { show: false },
    axisLabel: {
      customValues: yTickValues,
      formatter: function (v) { return labelMap[v] !== undefined ? labelMap[v] : ''; },
      fontFamily: SERIF, fontSize: 20, color: '#1c1c1c', margin: 5
    }
  },
  series: [
    band('orange', orangePts, '#d95319', 4.5, {
      markLine: {
        silent: true, z: 1, symbol: ['none', 'none'], animation: false, label: { show: false },
        lineStyle: { color: '#efefef', type: 'solid', width: 1 },
        data: minorGridY.map(v => ({ yAxis: v }))
      }
    }),
    band('purple', purplePts, '#7e2f8e', 4.5),
    band('lightblue', lightBluePts, '#4dbeee', 4),
    band('darkblue', darkBluePts, '#0072bd', 4),
    band('yellow', yellowPts, '#edb120', 4),
    band('green', greenPts, '#77ac30', 4),
    band('red', redPts, '#a2142f', 4, {
      markLine: {
        silent: true, z: 6, symbol: ['none', 'none'], animation: false, label: { show: false },
        lineStyle: { color: '#7a7a7a', type: [6, 4], width: 1.3 },
        data: regionBounds.map(v => ({ yAxis: v }))
      }
    })
  ],
  graphic: { elements: graphics }
};
chart.setOption(option);
</script>
</body>
</html>
